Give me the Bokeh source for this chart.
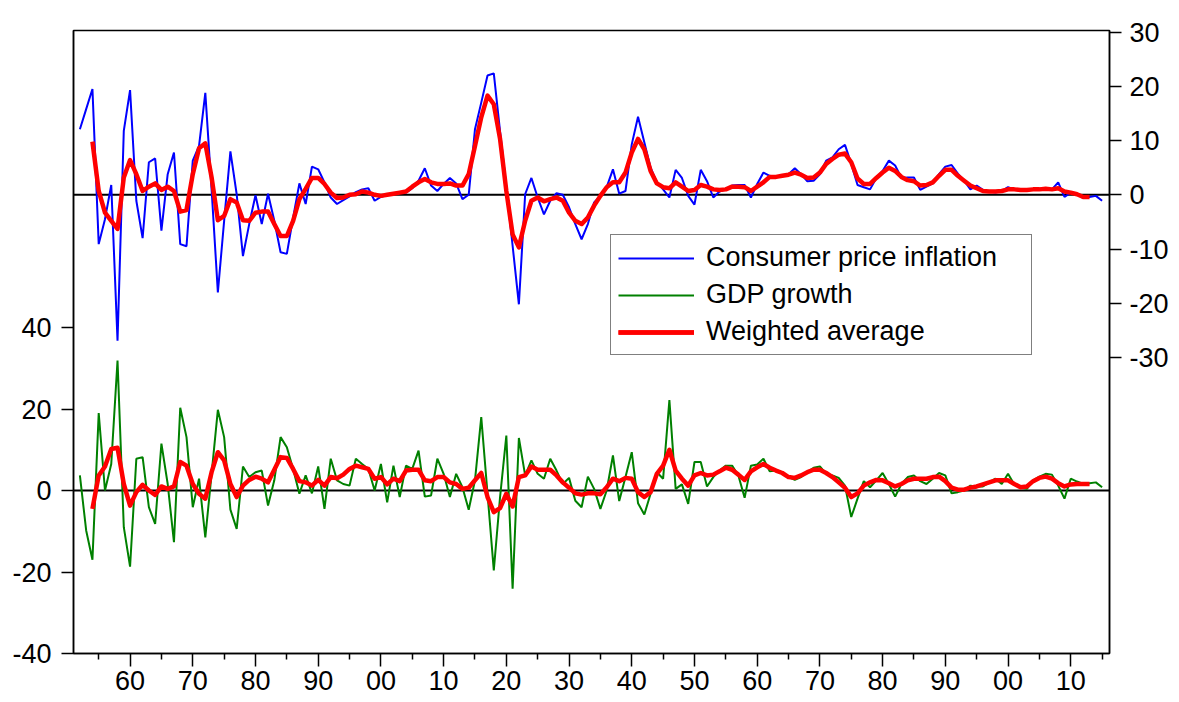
from bokeh.plotting import figure
from bokeh.models import (Range1d, LinearAxis, FixedTicker, Span, Legend,
                          LegendItem, ColumnDataSource)
from bokeh.embed import file_html
from bokeh.resources import INLINE

# ---------------- data ----------------
cpi_start = 1852
cpi = [
    12.1, 15.8, 19.5, -9.1, -4.5, 1.8, -26.9, 11.8,
    19.3, -1.1, -8.0, 6.0, 6.7, -6.6, 3.8, 7.8, -9.1, -9.5,
    6.3, 9.0, 18.8, 1.0, -18.0, -4.8, 8.0, 0.1, -11.3, -5.4,
    -0.1, -5.4, 0.2, -4.8, -10.6, -10.9, -4.2, 2.1, -1.7, 5.2,
    4.7, 2.3, -0.5, -1.7, -1.0, -0.3, 0.5, 1.0, 1.2, -1.1,
    -0.4, 0.0, 0.2, 0.4, 0.4, 1.2, 2.6, 4.9, 1.7, 0.7,
    2.0, 3.1, 2.1, -0.8, 0.0, 12.1, 17.0, 22.0, 22.4, 11.7,
    1.4, -9.4, -20.2, 0.1, 3.1, -0.5, -3.6, -1.1, 0.3, 0.0,
    -2.3, -5.4, -8.2, -5.4, -1.4, -0.2, 1.4, 4.7, 0.2, 0.7,
    9.3, 14.4, 9.7, 5.0, 2.3, 1.0, -0.5, 4.6, 3.1, -0.2,
    -1.8, 4.6, 2.5, -0.5, 0.6, 1.0, 1.7, 1.8, 1.8, -0.5,
    2.0, 4.1, 3.5, 3.2, 3.5, 3.8, 4.9, 3.8, 2.5, 2.6,
    3.8, 6.3, 6.9, 8.4, 9.2, 5.7, 1.8, 1.4, 1.0, 3.1,
    4.4, 6.3, 5.4, 3.1, 3.2, 3.2, 0.9, 1.5, 2.1, 3.8,
    5.2, 5.5, 3.9, 2.6, 1.0, 1.7, 0.9, 0.6, 0.4, 0.7,
    1.4, 1.0, 0.9, 1.0, 1.0, 1.1, 1.1, 1.0, 2.3, -0.4,
    0.4, 0.1, -0.6, -0.4, -0.2, -1.1,
]

gdp_start = 1852
gdp = [
    3.7, -9.8, -17.0, 19.0, 0.0, 6.5, 31.9, -9.0,
    -18.7, 7.8, 8.2, -4.1, -8.2, 11.5, 1.6, -12.7, 20.3, 13.1,
    -4.1, 2.9, -11.5, 4.1, 19.8, 13.1, -4.7, -9.4, 5.9, 3.3,
    4.5, 4.9, -3.7, 2.5, 13.1, 10.6, 5.3, -0.8, 3.7, -0.7,
    5.9, -4.5, 7.8, 2.5, 1.6, 1.2, 7.8, 6.5, 5.3, 0.0,
    6.5, -2.9, 6.1, -1.6, 6.1, 5.3, 9.8, -1.5, -1.2, 7.8,
    4.1, -1.6, 4.1, 0.8, -4.7, 2.5, 18.0, -0.8, -19.6, -1.6,
    13.5, -24.1, 12.9, 3.7, 7.4, 4.1, 2.9, 7.8, 4.9, 1.6,
    3.1, -2.5, -4.1, 3.4, 0.4, -4.5, 0.0, 8.6, -2.6, 3.3,
    9.4, -3.1, -5.9, -0.8, 4.5, 2.9, 22.2, 0.4, 1.5, -3.3,
    7.0, 7.0, 1.0, 3.3, 4.9, 6.1, 6.1, 3.7, -1.8, 6.1,
    6.4, 7.8, 4.7, 4.9, 4.5, 3.3, 2.6, 3.3, 4.5, 5.6,
    5.9, 4.1, 3.7, 3.1, 1.2, -6.5, -2.0, 2.3, 0.8, 2.5,
    4.3, 1.6, -1.5, 1.6, 3.3, 3.7, 2.3, 1.6, 2.9, 4.3,
    3.7, -0.7, -0.4, 0.0, 1.2, 1.0, 1.0, 2.0, 2.9, 1.6,
    4.1, 1.5, 0.7, 0.4, 2.5, 3.4, 4.1, 3.9, 1.2, -2.0,
    2.9, 2.2, 1.6, 1.8, 2.0, 0.8,
]

wavg_start = 1854
wavg_cpi = [
    9.8, 0.7, -3.3, -4.8, -6.3, 3.2,
    6.4, 3.8, 0.7, 1.5, 2.1, 0.9, 1.5, 0.7, -3.1, -2.8,
    3.8, 8.6, 9.5, 3.2, -4.7, -3.9, -0.8, -1.4, -4.7, -4.8,
    -3.3, -3.1, -3.1, -5.4, -7.6, -7.6, -4.8, -0.8, 1.1, 3.1,
    3.1, 2.0, 0.4, -0.6, -0.5, 0.0, 0.1, 0.6, 0.4, 0.0,
    -0.2, 0.0, 0.2, 0.4, 0.6, 1.5, 2.3, 2.9, 2.3, 2.0,
    2.0, 2.1, 1.7, 1.7, 3.8, 9.0, 14.3, 18.3, 16.7, 10.3,
    0.7, -7.3, -9.7, -4.8, -1.1, -0.5, -1.2, -0.8, -0.5, -1.1,
    -3.3, -4.8, -5.4, -4.2, -2.0, -0.2, 1.4, 2.3, 2.3, 4.1,
    7.8, 10.3, 8.4, 4.4, 2.1, 1.4, 1.2, 2.3, 1.5, 0.7,
    0.9, 1.8, 1.5, 1.0, 0.9, 1.0, 1.5, 1.5, 1.4, 0.7,
    1.5, 2.3, 3.3, 3.3, 3.5, 3.7, 4.1, 3.7, 3.1, 3.2,
    4.1, 5.7, 6.6, 7.4, 7.6, 6.0, 3.0, 2.0, 2.0, 3.1,
    4.1, 5.0, 4.4, 3.3, 2.7, 2.5, 1.7, 1.8, 2.3, 3.5,
    4.6, 4.6, 3.5, 2.6, 1.7, 1.2, 0.7, 0.6, 0.6, 0.7,
    1.0, 1.0, 0.9, 0.9, 1.0, 1.0, 1.1, 1.0, 1.2, 0.6,
    0.4, 0.1, -0.4, -0.4,
]
wavg_gdp = [
    -4.5, 3.7, 5.9, 10.2, 10.5, 1.6,
    -3.7, -0.4, 1.4, 0.0, -1.1, 1.0, 0.4, 1.0, 7.0, 6.1,
    1.6, -0.8, -2.0, 4.5, 9.4, 7.4, 1.6, -1.6, 1.2, 2.6,
    3.4, 2.9, 2.0, 5.1, 8.2, 8.0, 5.3, 2.3, 2.0, 1.2,
    2.6, 1.2, 3.3, 3.0, 3.9, 5.3, 6.1, 5.7, 5.3, 2.9,
    3.3, 1.5, 2.9, 2.3, 4.9, 5.1, 5.1, 2.5, 2.3, 3.3,
    3.3, 2.0, 1.6, 0.4, 0.7, 2.5, 4.3, -1.6, -5.3, -4.3,
    -0.8, -3.9, 3.3, 3.7, 5.9, 5.1, 5.1, 5.1, 3.7, 2.0,
    0.7, -0.7, -1.0, -0.7, -0.7, -0.9, 0.8, 2.9, 2.3, 3.1,
    2.9, -0.4, -1.6, -0.4, 4.1, 6.1, 10.0, 4.9, 2.9, 1.2,
    3.7, 4.3, 3.7, 3.9, 4.7, 5.6, 5.1, 3.9, 2.6, 4.7,
    5.7, 6.5, 5.6, 4.9, 4.3, 3.3, 3.1, 3.7, 4.5, 5.1,
    5.1, 4.3, 3.3, 2.0, 0.7, -1.6, -0.7, 1.2, 2.0, 2.6,
    2.5, 1.8, 1.0, 1.6, 2.5, 2.9, 2.9, 2.9, 3.3, 3.4,
    2.3, 0.7, 0.2, 0.2, 0.7, 1.0, 1.5, 2.0, 2.5, 2.5,
    2.5, 1.6, 0.8, 1.0, 2.3, 3.1, 3.4, 2.9, 1.8, 1.0,
    1.5, 1.6, 1.6, 1.6,
]

tick_years = [1860, 1870, 1880, 1890, 1900, 1910, 1920, 1930,
              1940, 1950, 1960, 1970, 1980, 1990, 2000, 2010]
tick_labels = ["60", "70", "80", "90", "00", "10", "20", "30",
               "40", "50", "60", "70", "80", "90", "00", "10"]
minor_years = [1855, 1865, 1875, 1885, 1895, 1905, 1915, 1925,
               1935, 1945, 1955, 1965, 1975, 1985, 1995, 2005, 2015]
left_ticks = [-40, -20, 0, 20, 40]
left_labels = ["-40", "-20", "0", "20", "40"]
right_ticks = [-30, -20, -10, 0, 10, 20, 30]
right_labels = ["-30", "-20", "-10", "0", "10", "20", "30"]

series_names = ["Consumer price inflation", "GDP growth", "Weighted average"]

# ---------------- sources ----------------
src_cpi = ColumnDataSource(dict(x=list(range(cpi_start, cpi_start + len(cpi))), y=cpi))
src_gdp = ColumnDataSource(dict(x=list(range(gdp_start, gdp_start + len(gdp))), y=gdp))
src_wc = ColumnDataSource(dict(x=list(range(wavg_start, wavg_start + len(wavg_cpi))), y=wavg_cpi))
src_wg = ColumnDataSource(dict(x=list(range(wavg_start, wavg_start + len(wavg_gdp))), y=wavg_gdp))

FONT = "Liberation Sans"
FS = "27px"

p = figure(width=1179, height=702,
           x_range=Range1d(1850.98, 2016.18),
           y_range=Range1d(-40, 112.9),
           output_backend="svg", toolbar_location=None,
           min_border_left=73, min_border_right=70,
           min_border_top=30, min_border_bottom=49)
p.extra_y_ranges = {"cpi": Range1d(-84.6, 30.3)}

p.grid.visible = False
p.background_fill_color = "white"
p.border_fill_color = "white"
p.outline_line_color = "black"
p.outline_line_width = 1.5
p.outline_line_alpha = 1.0

# zero lines
p.add_layout(Span(location=0, dimension="width", line_color="black",
                  line_width=2, level="underlay"))
p.add_layout(Span(location=0, dimension="width", line_color="black",
                  line_width=2, level="underlay", y_range_name="cpi"))

r_cpi = p.line("x", "y", source=src_cpi, y_range_name="cpi",
               line_color="#0000ff", line_width=2)
r_gdp = p.line("x", "y", source=src_gdp, line_color="#008000", line_width=2)
r_wc = p.line("x", "y", source=src_wc, y_range_name="cpi",
              line_color="#ff0000", line_width=4.5, line_join="round")
r_wg = p.line("x", "y", source=src_wg, line_color="#ff0000", line_width=4.5,
              line_join="round")

# x axis
xa = p.xaxis[0]
xa.ticker = FixedTicker(ticks=tick_years, minor_ticks=minor_years)
xa.major_label_overrides = {y: l for y, l in zip(tick_years, tick_labels)}
xa.major_tick_out = 13
xa.major_tick_in = 0
xa.minor_tick_out = 6
xa.minor_tick_in = 0
xa.major_label_standoff = 4

# left axis (GDP)
ya = p.yaxis[0]
ya.ticker = FixedTicker(ticks=left_ticks, minor_ticks=[])
ya.major_label_overrides = {t: l for t, l in zip(left_ticks, left_labels)}
ya.major_tick_out = 12
ya.major_tick_in = 0
ya.minor_tick_out = 0
ya.minor_tick_in = 0
ya.major_label_standoff = 10

# right axis (CPI)
ra = LinearAxis(y_range_name="cpi", ticker=FixedTicker(ticks=right_ticks, minor_ticks=[]))
ra.major_label_overrides = {t: l for t, l in zip(right_ticks, right_labels)}
ra.major_tick_out = 12
ra.major_tick_in = 0
ra.minor_tick_out = 0
ra.minor_tick_in = 0
ra.major_label_standoff = 8
p.add_layout(ra, "right")

for ax in (xa, ya, ra):
    ax.axis_line_color = "black"
    ax.axis_line_width = 1.5
    ax.major_tick_line_color = "black"
    ax.major_tick_line_width = 1.5
    ax.minor_tick_line_color = "black"
    ax.minor_tick_line_width = 1.5
    ax.major_label_text_font = FONT
    ax.major_label_text_font_size = FS
    ax.major_label_text_color = "black"

legend = Legend(items=[
    LegendItem(label=series_names[0], renderers=[r_cpi]),
    LegendItem(label=series_names[1], renderers=[r_gdp]),
    LegendItem(label=series_names[2], renderers=[r_wc, r_wg]),
], location=(537, 298))
legend.border_line_color = "black"
legend.border_line_width = 1.5
legend.background_fill_color = "white"
legend.background_fill_alpha = 1.0
legend.label_text_font = FONT
legend.label_text_font_size = FS
legend.label_text_color = "black"
legend.glyph_width = 76
legend.glyph_height = 30
legend.label_height = 30
legend.label_width = 318
legend.label_standoff = 12
legend.spacing = 6
legend.padding = 7
legend.margin = 0
p.add_layout(legend)

open("out.html", "w").write(file_html(p, INLINE))
